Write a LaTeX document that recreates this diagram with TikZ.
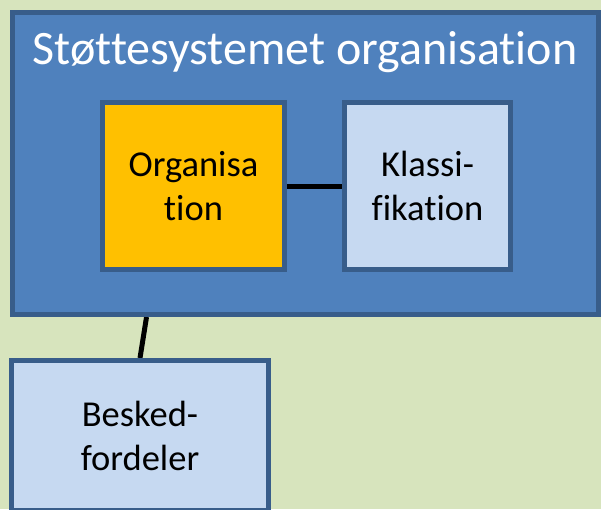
\documentclass[tikz,border=0pt]{standalone}
\usepackage{fontspec}
\setmainfont{Carlito}[Ligatures={NoCommon}]
\usetikzlibrary{calc,backgrounds}
\definecolor{pagegreen}{HTML}{D7E4BD}
\definecolor{panelblue}{HTML}{4F81BD}
\definecolor{edgeblue}{HTML}{385D8A}
\definecolor{paleblue}{HTML}{C6D9F1}
\definecolor{amber}{HTML}{FFC000}
\tikzset{
  panel/.style={draw=edgeblue, line width=5pt, fill=panelblue, rectangle,
    minimum width=586pt, minimum height=302pt, inner sep=0pt},
  unitbox/.style={draw=edgeblue, line width=5pt, rectangle, inner sep=0pt,
    align=center, text=black, font=\fontsize{36.5}{44}\selectfont},
  link/.style={draw=black, line width=5pt},
}
\begin{document}
\begin{tikzpicture}[x=1pt, y=-1pt]
  \useasboundingbox (0,0) rectangle (601,509);
  \clip (0,0) rectangle (601,509);

  % outer system panel
  \node[panel] (sys) at (305.5,163.5) {};
  \node[anchor=base, text=white, inner sep=0pt,
        font=\fontsize{48}{58}\selectfont] (title) at (305,64)
        {Støttesystemet organisation};

  % inner components
  \node[unitbox, fill=amber, minimum width=182pt, minimum height=167pt]
        (org) at (193.5,186) {Organisa\\tion};
  \node[unitbox, fill=paleblue, minimum width=166pt, minimum height=167pt]
        (kls) at (427.5,186) {Klassi-\\fikation};

  % link between the two components (anchors sit on the outer edges)
  \draw[link] (org.east) -- (kls.west);

  % message distributor below the panel
  \node[unitbox, fill=paleblue, minimum width=257pt, minimum height=150pt]
        (msg) at (140,435.5) {Besked-\\fordeler};

  % page colour and the panel-to-distributor link, kept behind the boxes
  \begin{scope}[on background layer]
    \fill[pagegreen] (0,0) rectangle (601,509);
    \draw[link] ($(sys.south west)!0.231!(sys.south east)$) -- (msg.north);
  \end{scope}
\end{tikzpicture}
\end{document}
